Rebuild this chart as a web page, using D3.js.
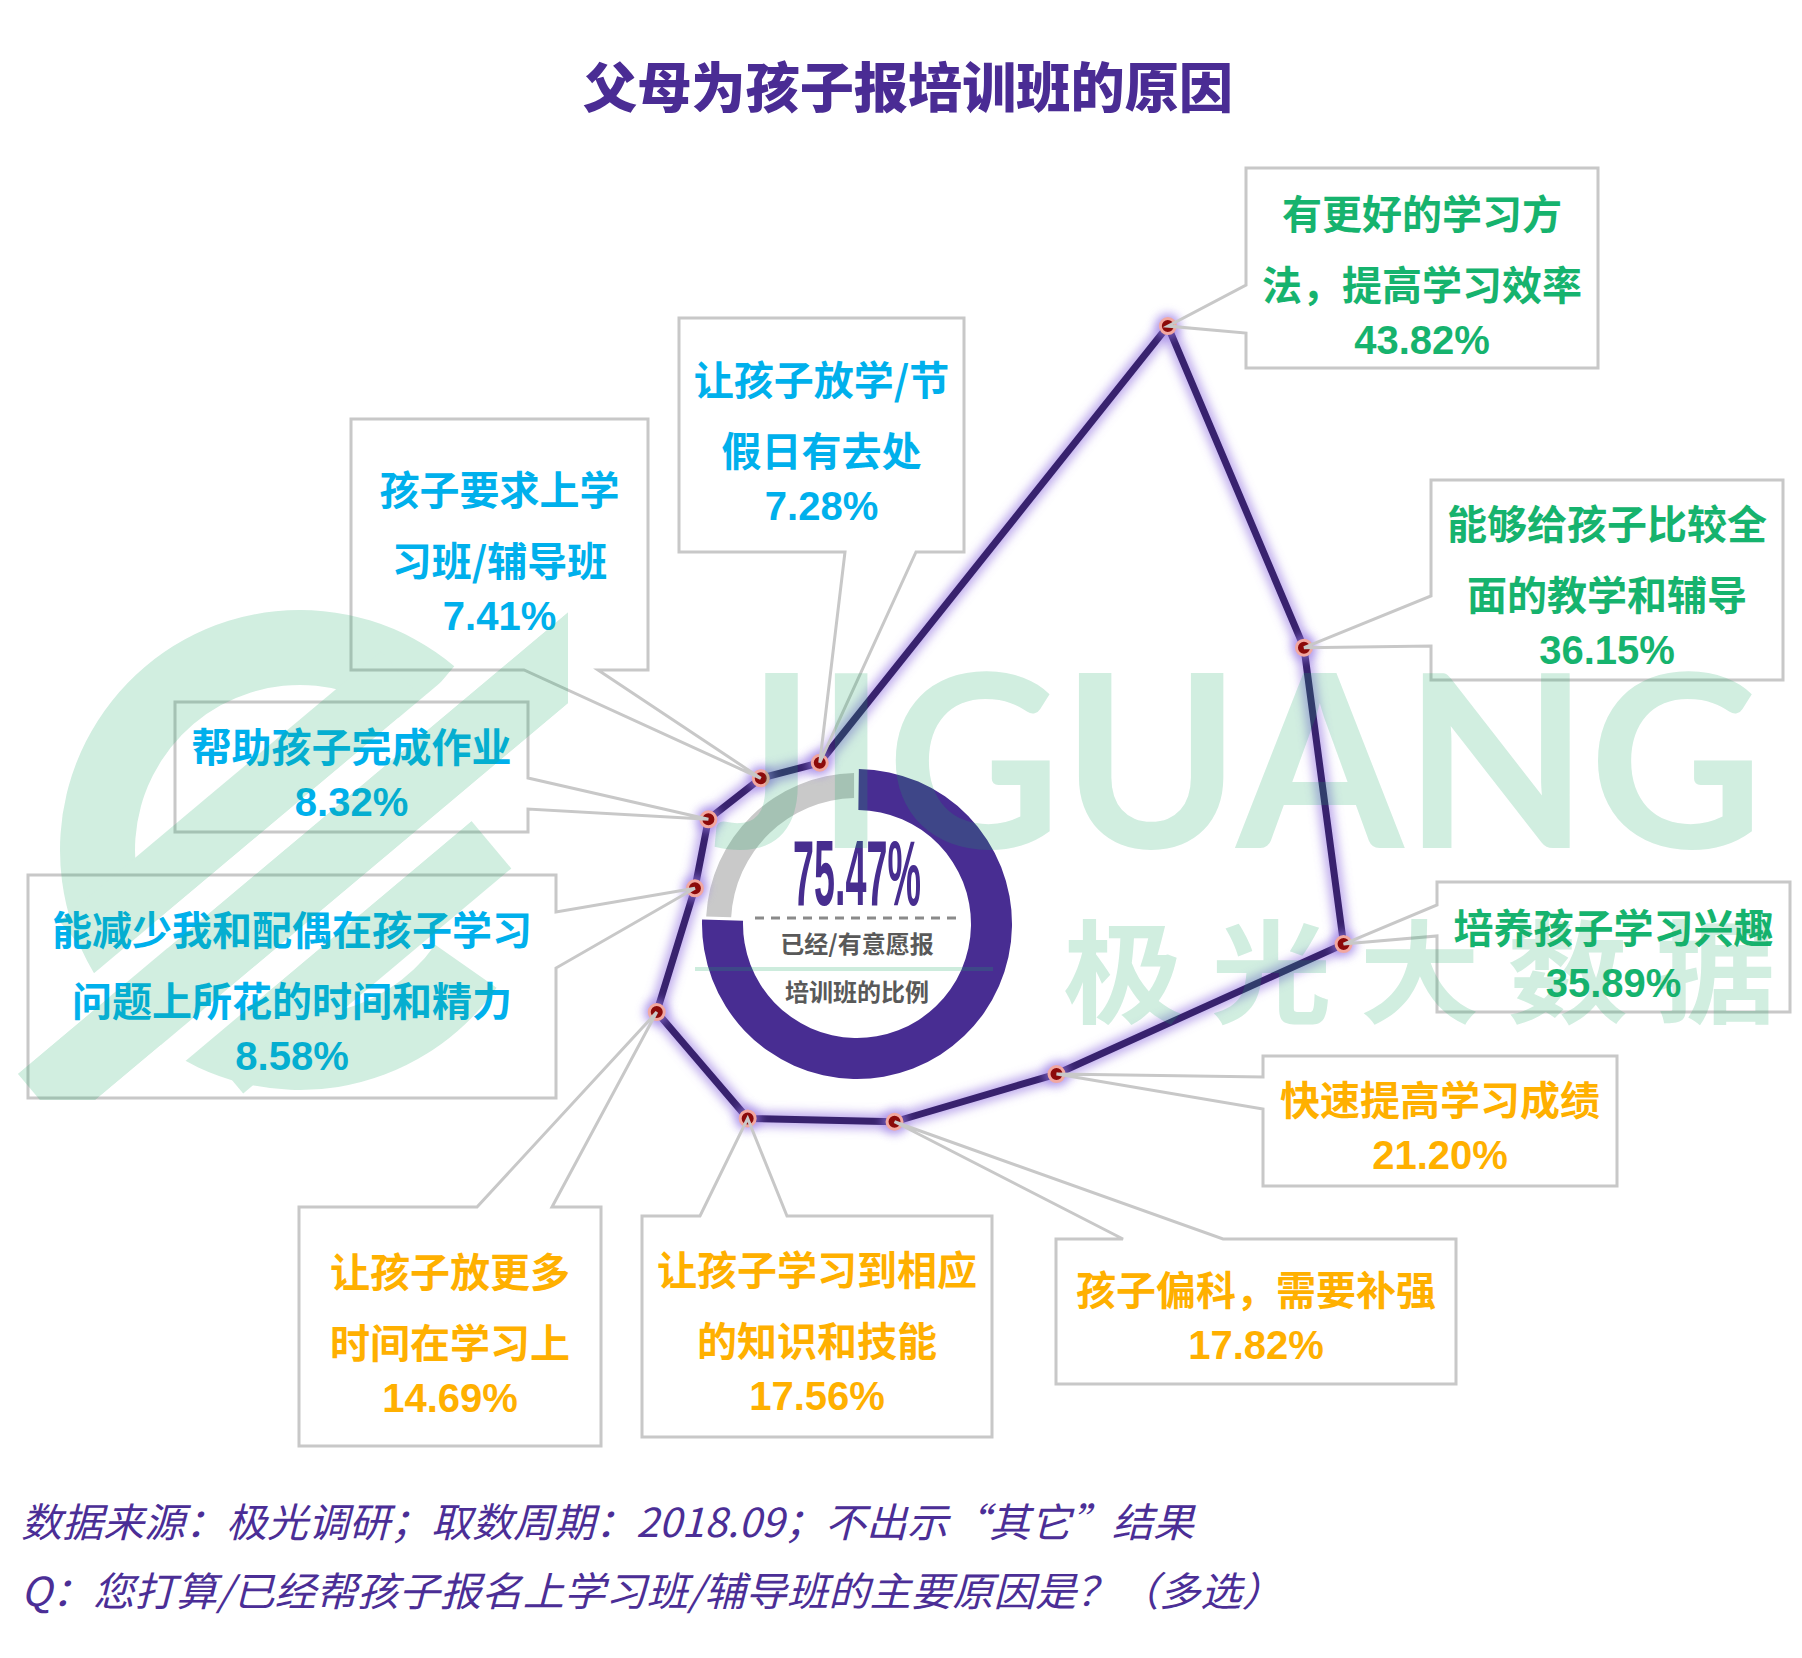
<!DOCTYPE html>
<html><head><meta charset="utf-8">
<script src="https://cdn.jsdelivr.net/npm/d3@7"></script>
<style>html,body{margin:0;padding:0;background:#fff;} svg{display:block;}</style>
</head><body>
<script>
// ---------- data ----------
const categories = ["有更好的学习方法，提高学习效率","能够给孩子比较全面的教学和辅导","培养孩子学习兴趣","快速提高学习成绩","孩子偏科，需要补强","让孩子学习到相应的知识和技能","让孩子放更多时间在学习上","能减少我和配偶在孩子学习问题上所花的时间和精力","帮助孩子完成作业","孩子要求上学习班/辅导班","让孩子放学/节假日有去处"];
const values = [43.82, 36.15, 35.89, 21.20, 17.82, 17.56, 14.69, 8.58, 8.32, 7.41, 7.28];
const labelLines = [
  ["有更好的学习方","法，提高学习效率"],
  ["能够给孩子比较全","面的教学和辅导"],
  ["培养孩子学习兴趣"],
  ["快速提高学习成绩"],
  ["孩子偏科，需要补强"],
  ["让孩子学习到相应","的知识和技能"],
  ["让孩子放更多","时间在学习上"],
  ["能减少我和配偶在孩子学习","问题上所花的时间和精力"],
  ["帮助孩子完成作业"],
  ["孩子要求上学","习班/辅导班"],
  ["让孩子放学/节","假日有去处"]
];
const tiers = ["top","top","top","mid","mid","mid","mid","low","low","low","low"];
const tierNames = ["top","mid","low"];
const shareValue = 75.47;
const shareText = ["已经/有意愿报","培训班的比例"];
const titleText = "父母为孩子报培训班的原因";
const notes = ["数据来源：极光调研；取数周期：2018.09；不出示“其它”结果","Q：您打算/已经帮孩子报名上学习班/辅导班的主要原因是？（多选）"];
const watermarkWords = ["JIGUANG","极 光 大 数 据"];

// ---------- layout (positions / styles) ----------
const W = 1802, H = 1658;
const tierColors = ["#16b36e","#ffb000","#00b0ec"];
const boxes = [
  {x:1246,y:168,w:352,h:200,side:"left",a:[285,333],ty:212},
  {x:1431,y:480,w:352,h:200,side:"left",a:[596,646],ty:522},
  {x:1437,y:882,w:353,h:130,side:"left",a:[905,936],ty:926},
  {x:1263,y:1056,w:354,h:130,side:"left",a:[1077,1109],ty:1098},
  {x:1056,y:1239,w:400,h:145,side:"top",a:[1123,1223],ty:1288},
  {x:642,y:1216,w:350,h:221,side:"top",a:[700,787],ty:1268},
  {x:299,y:1207,w:302,h:239,side:"top",a:[477,552],ty:1270},
  {x:28,y:875,w:528,h:223,side:"right",a:[912,968],ty:928},
  {x:175,y:702,w:353,h:130,side:"right",a:[778,809],ty:745},
  {x:351,y:419,w:297,h:251,side:"bottom",a:[524,598],ty:488},
  {x:679,y:318,w:285,h:234,side:"bottom",a:[845,916],ty:378}
];
const cx = 820, cy = 870;           // radar centre
const donut = {x:857, y:924};
const CJK = "'Noto Sans CJK SC','Noto Sans CJK TC',sans-serif";
const LAT = "'Liberation Sans','Noto Sans CJK SC',sans-serif";

const svg = d3.select("body").append("svg").attr("width",W).attr("height",H);
svg.append("rect").attr("width",W).attr("height",H).attr("fill","#fff");
const defs = svg.append("defs");
defs.append("filter").attr("id","blur").attr("x","-50%").attr("y","-50%").attr("width","200%").attr("height","200%")
  .append("feGaussianBlur").attr("stdDeviation",5);

// title
svg.append("text").attr("x",908).attr("y",84).attr("text-anchor","middle").attr("dominant-baseline","central")
  .attr("font-family",CJK).attr("font-weight",900).attr("font-size",54).attr("fill","#4a2c94")
  .attr("textLength",650).attr("lengthAdjust","spacingAndGlyphs").text(titleText);

// ---------- donut ----------
const pie = d3.pie().sort(null).value(d=>d)([shareValue, 100-shareValue]);
const dg = svg.append("g").attr("transform",`translate(${donut.x},${donut.y})`);
const arcMain = d3.arc().innerRadius(114).outerRadius(155);
const arcRest = d3.arc().innerRadius(126).outerRadius(151).padAngle(0.03);
dg.append("path").attr("d",arcRest(pie[1])).attr("fill","#c9c9c9");
dg.append("path").attr("d",arcMain({startAngle:pie[0].startAngle+0.012,endAngle:pie[0].endAngle})).attr("fill","#482d92");
dg.append("text").attr("text-anchor","middle").attr("transform","translate(0,-19) scale(0.41,1)")
  .attr("font-family",LAT).attr("font-weight",700).attr("font-size",92).attr("fill","#472d8f")
  .text(shareValue.toFixed(2)+"%");
dg.append("line").attr("x1",-102).attr("x2",100).attr("y1",-6).attr("y2",-6)
  .attr("stroke","#8a8a8a").attr("stroke-width",3).attr("stroke-dasharray","9,7");
dg.append("text").attr("y",18).attr("text-anchor","middle").attr("dominant-baseline","central")
  .attr("font-family",CJK).attr("font-weight",700).attr("font-size",24).attr("fill","#595959").text(shareText[0]);
dg.append("line").attr("x1",-162).attr("x2",136).attr("y1",45).attr("y2",45)
  .attr("stroke","#1aa866").attr("stroke-opacity",0.22).attr("stroke-width",4);
dg.append("text").attr("y",66).attr("text-anchor","middle").attr("dominant-baseline","central")
  .attr("font-family",CJK).attr("font-weight",700).attr("font-size",24).attr("fill","#595959").text(shareText[1]);

// ---------- radar ----------
const start = 32.6*Math.PI/180;
const rScale = d3.scaleLinear().domain([0,45]).range([0,663]);
const aScale = d3.scaleLinear().domain([0,categories.length]).range([start, start+2*Math.PI]);
const pts = values.map((v,i)=>[cx + rScale(v)*Math.sin(aScale(i)), cy - rScale(v)*Math.cos(aScale(i))]);
const radial = d3.lineRadial().angle((d,i)=>aScale(i)).radius(d=>rScale(d)).curve(d3.curveLinearClosed);
const rg = svg.append("g").attr("transform",`translate(${cx},${cy})`);
rg.append("path").attr("d",radial(values)).attr("fill","none").attr("stroke","#8f6fe0")
  .attr("stroke-width",16).attr("stroke-opacity",0.55).attr("stroke-linejoin","round").attr("filter","url(#blur)");
rg.append("path").attr("d",radial(values)).attr("fill","none").attr("stroke","#38226e")
  .attr("stroke-width",7).attr("stroke-linejoin","round");

const mg = svg.append("g");
mg.selectAll("circle.glow").data(pts).join("circle").attr("class","glow")
  .attr("cx",d=>d[0]).attr("cy",d=>d[1]).attr("r",13).attr("fill","#9b7fe6").attr("opacity",0.6).attr("filter","url(#blur)");
mg.selectAll("circle.dot").data(pts).join("circle").attr("class","dot")
  .attr("cx",d=>d[0]).attr("cy",d=>d[1]).attr("r",7.5).attr("fill","#8c0a0a").attr("stroke","#f2a7a0").attr("stroke-width",3);

// ---------- callouts ----------
function callout(b,p){
  const x=b.x,y=b.y,w=b.w,h=b.h,a=b.a,P=`L${p[0]},${p[1]}`;
  if(b.side==="left") return `M${x},${y}H${x+w}V${y+h}H${x}V${a[1]}${P}L${x},${a[0]}Z`;
  if(b.side==="right") return `M${x},${y}H${x+w}V${a[0]}${P}L${x+w},${a[1]}V${y+h}H${x}Z`;
  if(b.side==="top") return `M${x},${y}H${a[0]}${P}L${a[1]},${y}H${x+w}V${y+h}H${x}Z`;
  return `M${x},${y}H${x+w}V${y+h}H${a[1]}${P}L${a[0]},${y+h}H${x}Z`;
}
const color = d3.scaleOrdinal().domain(tierNames).range(tierColors);
const cg = svg.append("g");
values.forEach((v,i)=>{
  const b = boxes[i];
  cg.append("path").attr("d",callout(b,pts[i])).attr("fill","none").attr("stroke","#c8c8c8")
    .attr("stroke-width",3).attr("stroke-linejoin","miter");
  const tx = b.x + b.w/2;
  const c = color(tiers[i]);
  labelLines[i].forEach((ln,k)=>{
    cg.append("text").attr("x",tx).attr("y",b.ty+k*71).attr("text-anchor","middle").attr("dominant-baseline","central")
      .attr("font-family",CJK).attr("font-weight",700).attr("font-size",40).attr("fill",c).text(ln);
  });
  cg.append("text").attr("x",tx).attr("y",b.ty+(labelLines[i].length-1)*71+57).attr("text-anchor","middle")
    .attr("dominant-baseline","central").attr("font-family",LAT).attr("font-weight",700).attr("font-size",40)
    .attr("fill",c).text(v.toFixed(2)+"%");
});

// ---------- footer ----------
notes.forEach((t,i)=>{
  svg.append("text").attr("x",21).attr("y",[1520,1589][i]).attr("dominant-baseline","central")
    .attr("font-family",CJK).attr("font-style","italic").attr("font-size",40).attr("fill","#4b2e96")
    .attr("textLength",[1173,1262][i]).attr("lengthAdjust","spacingAndGlyphs").text(t);
});

// ---------- watermark (overlay) ----------
const wm = svg.append("g").attr("opacity",0.2).attr("fill","#1aa866");
wm.append("text").attr("x",712).attr("y",848).attr("font-family","Lato,'Liberation Sans',sans-serif")
  .attr("font-weight",700).attr("font-size",241).attr("textLength",1052).attr("lengthAdjust","spacingAndGlyphs")
  .text(watermarkWords[0]);
wm.append("text").attr("x",1063).attr("y",966).attr("dominant-baseline","central").attr("font-family",CJK)
  .attr("font-weight",700).attr("font-size",112).attr("textLength",713).attr("lengthAdjust","spacingAndGlyphs")
  .text(watermarkWords[1]);
// logo: ring + diagonal bands
const LC = [300, 850], rot = -40;
const mask = defs.append("mask").attr("id","logoMask").attr("maskUnits","userSpaceOnUse")
  .attr("x",0).attr("y",0).attr("width",W).attr("height",H);
mask.append("rect").attr("width",W).attr("height",H).attr("fill","#fff");
const mk = mask.append("g").attr("transform",`translate(${LC[0]},${LC[1]}) rotate(${rot})`);
[[-38,-10],[60,88]].forEach(g=>mk.append("rect").attr("x",-450).attr("y",g[0]).attr("width",900).attr("height",g[1]-g[0]).attr("fill","#000"));
defs.append("clipPath").attr("id","logoClip").append("rect").attr("x",0).attr("y",540).attr("width",568).attr("height",560);
const lg = wm.append("g").attr("mask","url(#logoMask)").attr("clip-path","url(#logoClip)");
lg.append("path").attr("transform",`translate(${LC[0]},${LC[1]})`)
  .attr("d",d3.arc().innerRadius(165).outerRadius(240)({startAngle:125*Math.PI/180,endAngle:400*Math.PI/180}));
const bands = lg.append("g").attr("transform",`translate(${LC[0]},${LC[1]}) rotate(${rot})`);
[[-230,-100,420,62],[-360,-10,720,70],[-200,88,350,62]].forEach(r=>bands.append("rect")
  .attr("x",r[0]).attr("y",r[1]).attr("width",r[2]).attr("height",r[3]));
</script>
</body></html>
